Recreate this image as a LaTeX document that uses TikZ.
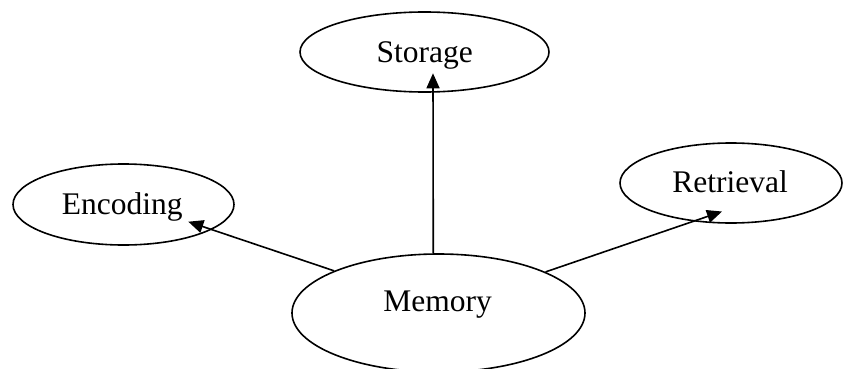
\documentclass[tikz,border=0pt]{standalone}
\usepackage{fontspec}
\setmainfont{Liberation Serif}
\usetikzlibrary{shapes.geometric,arrows.meta}
\begin{document}
\begin{tikzpicture}[x=1pt,y=-1pt,
  oval/.style={draw=black,ellipse,line width=1.6pt,inner sep=0pt},
  lbl/.style={anchor=base,inner sep=0pt,font=\fontsize{31.5}{36}\selectfont},
  conn/.style={line width=1.6pt,-{Triangle[length=15pt,width=13pt]}}]
\useasboundingbox (0,0) rectangle (843,369);
\node[oval,minimum width=221pt,minimum height=81pt] (enc) at (123.5,204.5) {};
\node[oval,minimum width=249pt,minimum height=80pt] (sto) at (424.5,52) {};
\node[oval,minimum width=222pt,minimum height=80pt] (ret) at (731,183) {};
\node[oval,minimum width=293pt,minimum height=118pt] (mem) at (438.5,313) {};
\node[lbl] (enct) at (122.2,214) {Encoding};
\node[lbl] (stot) at (424.7,62.7) {Storage};
\node[lbl] (rett) at (730,192.3) {Retrieval};
\node[lbl] (memt) at (437.5,311) {Memory};
\coordinate (encTip) at (188.3,221.7);
\coordinate (stoTip) at (433,73.3);
\coordinate (retTip) at (722,211.5);
\draw[conn] (mem.158.6) -- (encTip);
\draw[conn] (mem.95.3) -- (stoTip);
\draw[conn] (mem.21.8) -- (retTip);
\end{tikzpicture}
\end{document}
